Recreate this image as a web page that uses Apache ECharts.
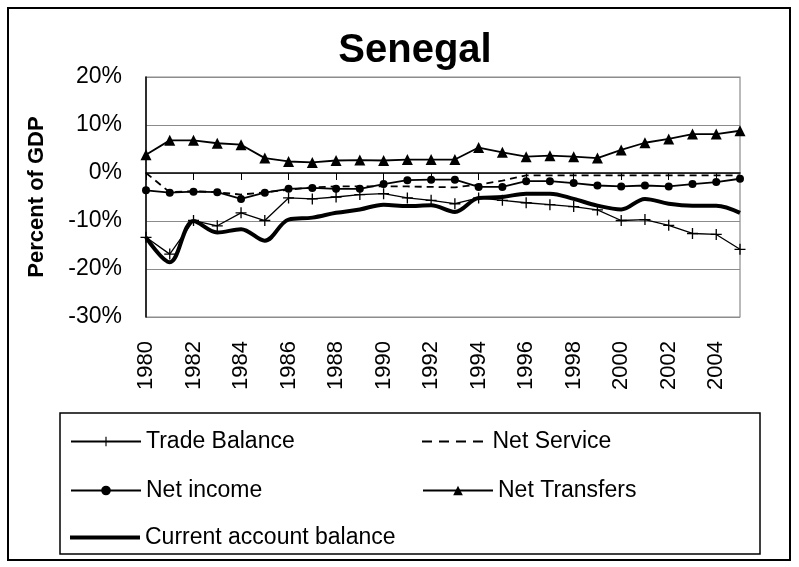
<!DOCTYPE html>
<html>
<head>
<meta charset="utf-8">
<script src="https://cdn.jsdelivr.net/npm/echarts@6/dist/echarts.min.js"></script>
<style>
  html, body { margin: 0; padding: 0; background: #fff; }
  #chart { width: 799px; height: 567px; }
</style>
</head>
<body>
<div id="chart"></div>
<script>
var years = [];
for (var y = 1980; y <= 2005; y++) years.push(String(y));

// values, percent of GDP
var tradeBalance = [-13.4, -16.9, -9.9, -11.0, -8.3, -9.9, -5.2, -5.4, -5.0, -4.5, -4.3, -5.2, -5.7,
  -6.4, -5.2, -5.7, -6.2, -6.6, -7.0, -7.7, -9.9, -9.7, -10.9, -12.6, -12.8, -15.9];
var netService = [0, -4.0, -3.8, -4.0, -4.5, -4.0, -3.5, -3.0, -2.8, -2.8, -2.8, -2.8, -2.9,
  -3.0, -2.4, -1.6, -0.5, -0.5, -0.5, -0.5, -0.5, -0.5, -0.5, -0.5, -0.5, -0.5];
var netIncome = [-3.6, -4.1, -3.9, -4.0, -5.4, -4.1, -3.3, -3.1, -3.3, -3.3, -2.3, -1.5, -1.4,
  -1.4, -2.9, -2.9, -1.7, -1.7, -2.1, -2.6, -2.8, -2.6, -2.8, -2.3, -1.9, -1.2];
var netTransfers = [3.8, 6.8, 6.8, 6.2, 5.9, 3.1, 2.4, 2.2, 2.6, 2.7, 2.6, 2.8, 2.8,
  2.8, 5.3, 4.3, 3.4, 3.6, 3.4, 3.1, 4.8, 6.3, 7.1, 8.1, 8.1, 8.8];
var currentAccount = [-13.4, -18.6, -10.0, -12.4, -11.7, -14.1, -9.7, -9.3, -8.3, -7.6, -6.6, -6.9, -6.7,
  -8.1, -5.2, -5.0, -4.3, -4.3, -5.4, -6.8, -7.6, -5.4, -6.4, -6.8, -6.8, -8.3];

var font = "'Liberation Sans', Arial, sans-serif";
var plus = 'path://M4.4,0h1.2v10h-1.2z M0,4.4h10v1.2h-10z';
var dashes = 'path://M0,0h10v2h-10z M17,0h10v2h-10z M34,0h10v2h-10z M51,0h10v2h-10z';

var chart = echarts.init(document.getElementById('chart'));

function legendAt(item, left, top, h) {
  return {
    data: [item],
    left: left,
    top: top,
    itemWidth: 70,
    itemHeight: h || 12,
    itemGap: 0,
    textStyle: { fontFamily: font, fontSize: 23, color: '#000' }
  };
}

var option = {
  backgroundColor: '#fff',
  animation: false,
  title: {
    text: 'Senegal',
    left: 410,
    textAlign: 'center',
    top: 26,
    textStyle: { fontFamily: font, fontSize: 40, fontWeight: 'bold', color: '#000' }
  },
  graphic: [
    { type: 'rect', shape: { x: 8, y: 8, width: 782, height: 552 },
      style: { fill: 'none', stroke: '#000', lineWidth: 2 } },
    { type: 'rect', shape: { x: 60, y: 413, width: 700, height: 141 },
      style: { fill: 'none', stroke: '#000', lineWidth: 1.5 } },
    { type: 'rect', shape: { x: 146, y: 77, width: 594, height: 240 },
      style: { fill: 'none', stroke: '#8c8c8c', lineWidth: 1.2 }, z: -1 }
  ],
  legend: [
    legendAt('Trade Balance', 65, 425),
    legendAt({ name: 'Net Service', icon: dashes }, 417, 425, 2),
    legendAt('Net income', 65, 474),
    legendAt('Net Transfers', 417, 474),
    legendAt({ name: 'Current account balance', icon: 'rect' }, 65, 521, 4)
  ],
  grid: { left: 146, right: 59, top: 77, bottom: 250 },
  xAxis: {
    type: 'category',
    data: years,
    boundaryGap: false,
    axisLine: { lineStyle: { color: '#000', width: 1.5 } },
    axisTick: { interval: 1, length: 7, lineStyle: { color: '#000' } },
    axisLabel: { interval: 1, rotate: 90, fontFamily: font, fontSize: 22, color: '#000', margin: 24 },
    splitLine: { show: false }
  },
  yAxis: {
    type: 'value',
    min: -30,
    max: 20,
    interval: 10,
    name: 'Percent of GDP',
    nameLocation: 'middle',
    nameGap: 98,
    nameTextStyle: { fontFamily: font, fontSize: 22, fontWeight: 'bold', color: '#000' },
    axisLine: { show: true, lineStyle: { color: '#000', width: 1.5 } },
    axisTick: { show: false },
    axisLabel: { formatter: '{value}%', fontFamily: font, fontSize: 23, color: '#000', margin: 24 },
    splitLine: { lineStyle: { color: '#8c8c8c', width: 1.2 } }
  },
  series: [
    {
      name: 'Trade Balance', type: 'line', data: tradeBalance,
      symbol: plus, symbolSize: 11,
      lineStyle: { color: '#000', width: 1.3 },
      itemStyle: { color: '#000' }
    },
    {
      name: 'Net Service', type: 'line', data: netService,
      showSymbol: false,
      lineStyle: { color: '#000', width: 1.8, type: [7, 5] },
      itemStyle: { color: '#000' }
    },
    {
      name: 'Net income', type: 'line', data: netIncome,
      symbol: 'circle', symbolSize: 8,
      lineStyle: { color: '#000', width: 1.8 },
      itemStyle: { color: '#000' }
    },
    {
      name: 'Net Transfers', type: 'line', data: netTransfers,
      symbol: 'triangle', symbolSize: 11,
      lineStyle: { color: '#000', width: 1.8 },
      itemStyle: { color: '#000' }
    },
    {
      name: 'Current account balance', type: 'line', data: currentAccount,
      showSymbol: false, smooth: 0.35,
      lineStyle: { color: '#000', width: 4 },
      itemStyle: { color: '#000' }
    }
  ]
};

chart.setOption(option);
</script>
</body>
</html>
